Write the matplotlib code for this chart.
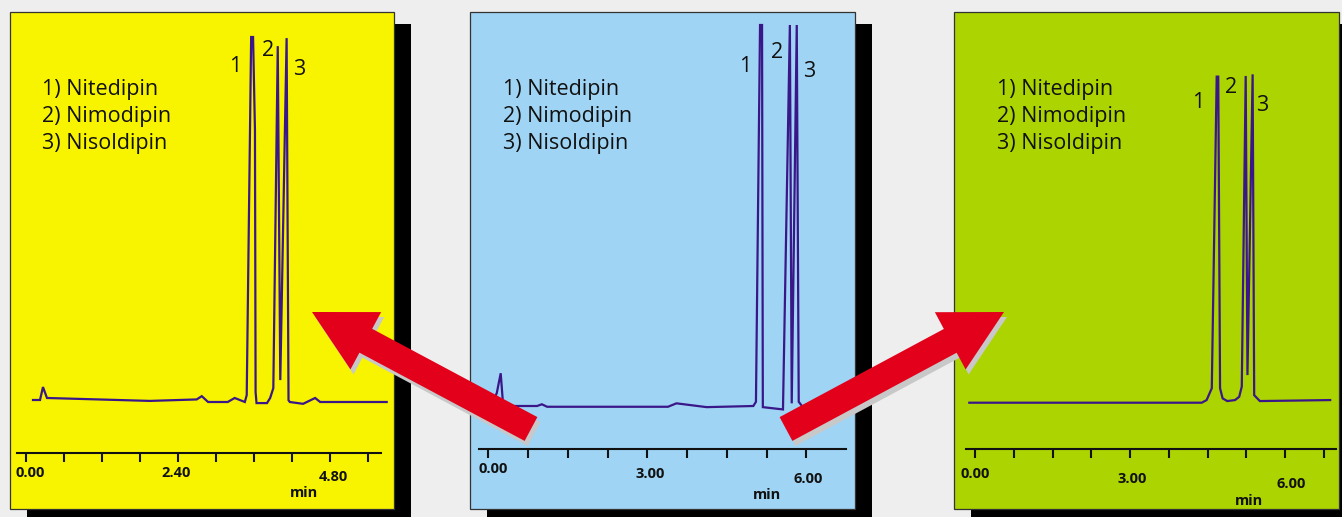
import matplotlib
matplotlib.use('Agg')
import matplotlib.pyplot as plt
from matplotlib.patches import Rectangle, FancyArrow

plt.rcParams['font.family'] = ['Open Sans', 'DejaVu Sans']

W, H = 1342, 517

compounds = ['1) Nitedipin', '2) Nimodipin', '3) Nisoldipin']
peak_names = ['1', '2', '3']

# chromatogram 1 (yellow) - time in min, signal in % of max
t1 = [0.115, 0.226, 0.273, 0.336, 1.96, 2.70, 2.78, 2.88, 3.19, 3.30, 3.46, 3.49,
      3.56, 3.59, 3.62, 3.63, 3.645, 3.73, 3.81, 3.86, 3.91, 3.98, 4.02, 4.12,
      4.15, 4.17, 4.38, 4.57, 4.65, 5.70]
s1 = [0.55, 0.55, 4.1, 1.1, 0.3, 0.7, 1.6, 0.0, 0.0, 1.1, 0.0, 1.9,
      100, 100, 74.5, 2.7, -0.3, -0.3, -0.3, 1.1, 3.8, 97.5, 6.0, 99.7,
      0.5, 0.0, -0.5, 1.1, 0.0, 0.0]
peak_t1 = [3.305, 3.826, 4.315]
peak_s1 = [91.8, 96.4, 91.0]
ticks1 = [0.0, 0.6, 1.2, 1.8, 2.4, 3.0, 3.6, 4.2, 4.8, 5.4]
labels1 = ['0.00', '2.40', '4.80']
label_t1 = [0.0, 2.4, 4.8]

# chromatogram 2 (blue)
t2 = [0.05, 0.16, 0.234, 0.277, 0.315, 0.92, 1.01, 1.11, 3.39, 3.55, 4.12, 5.0,
      5.05, 5.127, 5.165, 5.18, 5.56, 5.69, 5.725, 5.82, 5.857, 5.93, 6.63]
s2 = [0.0, 3.4, 8.6, 0.7, 0.0, 0.0, 0.45, -0.2, -0.2, 0.7, -0.3, 0.0,
      1.1, 100, 100, -0.3, -0.9, 100, 0.7, 100, 1.1, -0.2, -0.2]
peak_t2 = [4.84, 5.44, 6.05]
peak_s2 = [89.0, 92.9, 87.9]
ticks2 = [0.0, 0.75, 1.5, 2.25, 3.0, 3.75, 4.5, 5.25, 6.0]
labels2 = ['0.00', '3.00', '6.00']
label_t2 = [0.0, 3.0, 6.0]

# chromatogram 3 (green)
t3 = [-0.11, 4.385, 4.48, 4.58, 4.675, 4.705, 4.74, 4.79, 4.88, 5.03, 5.11, 5.16,
      5.236, 5.27, 5.37, 5.40, 5.51, 6.87]
s3 = [0.0, 0.0, 0.8, 4.4, 99.2, 99.2, 4.4, 1.3, 0.5, 0.8, 1.8, 4.9,
      99.4, 8.4, 99.9, 2.3, 0.5, 0.8]
peak_t3 = [4.31, 4.95, 5.55]
peak_s3 = [91.2, 96.0, 90.3]
ticks3 = [0.0, 0.75, 1.5, 2.25, 3.0, 3.75, 4.5, 5.25, 6.0, 6.75]
labels3 = ['0.00', '3.00', '6.00']
label_t3 = [0.0, 3.0, 6.0]

line_color = '#3a1789'

panels = [
    dict(box=(10, 12, 394, 509), face='#f8f400', x0=25.7, kx=63.33, y0=402, ky=3.65,
         axis_y=453, axis_x=(17, 381), t=t1, s=s1, pt=peak_t1, ps=peak_s1,
         ticks=ticks1, labels=labels1, label_t=label_t1,
         label_y=[473, 473, 477], label_dx=[4.6, -1.7, 4], min_xy=(304, 493), legend_x=42),
    dict(box=(470, 12, 855, 509), face='#9fd4f4', x0=488.3, kx=53.0, y0=406, ky=3.81,
         axis_y=449, axis_x=(479, 846), t=t2, s=s2, pt=peak_t2, ps=peak_s2,
         ticks=ticks2, labels=labels2, label_t=label_t2,
         label_y=[469.3, 474, 479.3], label_dx=[5, 3, 2], min_xy=(767.3, 495), legend_x=503),
    dict(box=(954, 12, 1339, 509), face='#acd400', x0=975.0, kx=51.7, y0=402.7, ky=3.287,
         axis_y=449, axis_x=(966, 1336), t=t3, s=s3, pt=peak_t3, ps=peak_s3,
         ticks=ticks3, labels=labels3, label_t=label_t3,
         label_y=[474, 479, 484], label_dx=[0, 2, 6], min_xy=(1249, 500.7), legend_x=997),
]

fig = plt.figure(figsize=(W / 100, H / 100), dpi=100)
fig.patch.set_facecolor('#eeeeee')

# background layer: shadows and panel boxes, in pixel coordinates
bg = fig.add_axes([0, 0, 1, 1])
bg.set_xlim(0, W)
bg.set_ylim(H, 0)
bg.axis('off')
for p in panels:
    L, T, R, B = p['box']
    bg.add_patch(Rectangle((L + 17, T + 12), R - L, B - T, facecolor='black', edgecolor='none'))
    bg.add_patch(Rectangle((L, T), R - L, B - T, facecolor=p['face'], edgecolor='#333333', lw=0.9))
    for i, name in enumerate(compounds):
        bg.text(p['legend_x'], 90 + 26.5 * i, name, fontsize=15.5, va='center', ha='left', color='#111111')
    for lt, lab, ly, dx in zip(p['label_t'], p['labels'], p['label_y'], p['label_dx']):
        bg.text(p['x0'] + p['kx'] * lt + dx, ly, lab, fontsize=10.5, fontweight='bold',
                ha='center', va='center', color='#111111')
    bg.text(p['min_xy'][0], p['min_xy'][1], 'min', fontsize=10.5, fontweight='bold',
            ha='center', va='center', color='#111111')

# chromatograms
for p in panels:
    L, T, R, B = p['box']
    ax = fig.add_axes([L / W, 1 - B / H, (R - L) / W, (B - T) / H])
    ax.set_facecolor('none')
    ax.set_xlim((L - p['x0']) / p['kx'], (R - p['x0']) / p['kx'])
    ax.set_ylim((p['y0'] - B) / p['ky'], (p['y0'] - T) / p['ky'])
    ax.plot(p['t'], p['s'], color=line_color, lw=1.6, solid_joinstyle='miter')
    for name, x, y in zip(peak_names, p['pt'], p['ps']):
        ax.text(x, y, name, fontsize=15.5, ha='center', va='center', color='#111111')
    for side in ['top', 'left', 'right']:
        ax.spines[side].set_visible(False)
    ax.spines['bottom'].set_position(('data', (p['y0'] - p['axis_y']) / p['ky']))
    ax.spines['bottom'].set_bounds((p['axis_x'][0] - p['x0']) / p['kx'], (p['axis_x'][1] - p['x0']) / p['kx'])
    ax.spines['bottom'].set_linewidth(1.5)
    ax.spines['bottom'].set_color('#111111')
    ax.set_xticks(p['ticks'])
    ax.set_xticklabels([])
    ax.tick_params(axis='x', direction='out', length=6.5, width=1.5, color='#111111')
    ax.set_yticks([])

# red arrows on top
top = fig.add_axes([0, 0, 1, 1])
top.set_facecolor('none')
top.set_xlim(0, W)
top.set_ylim(H, 0)
top.axis('off')
arrows = [((531, 429), (312, 312)), ((786, 429), (1004, 312))]
for (x1, y1), (x2, y2) in arrows:
    top.add_patch(FancyArrow(x1 + 3, y1 + 5, x2 - x1, y2 - y1, width=27, head_width=65,
                             head_length=61, length_includes_head=True,
                             facecolor='#c8c8c8', edgecolor='none'))
    top.add_patch(FancyArrow(x1, y1, x2 - x1, y2 - y1, width=27, head_width=65,
                             head_length=61, length_includes_head=True,
                             facecolor='#e2001a', edgecolor='none'))

fig.savefig('out.png', dpi=100, facecolor=fig.get_facecolor())
